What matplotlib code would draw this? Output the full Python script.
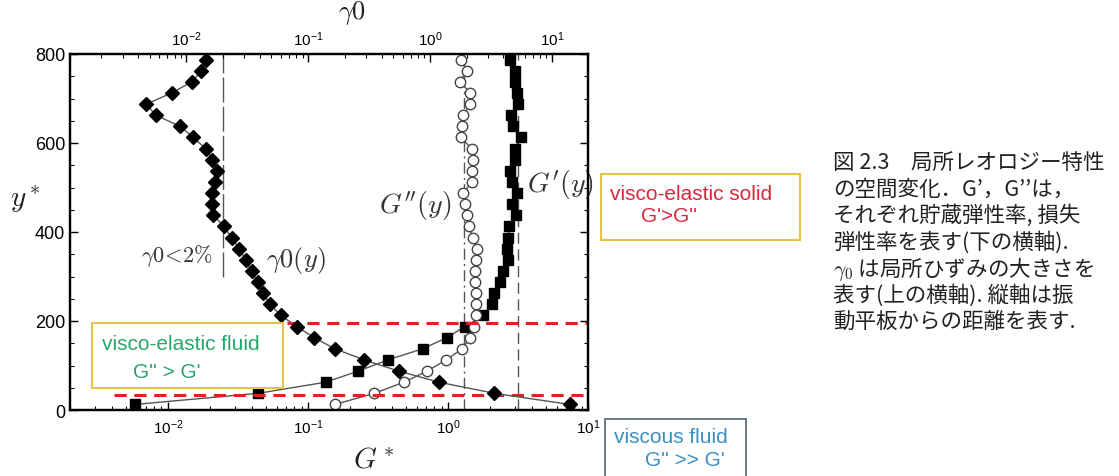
import matplotlib.pyplot as plt
from matplotlib.patches import Rectangle
from matplotlib.ticker import LogLocator, MultipleLocator

plt.rcParams['font.family'] = ['Liberation Sans', 'DejaVu Sans']
plt.rcParams['mathtext.fontset'] = 'cm'

# distance from the oscillating plate, same grid for every profile
y_star = [787.5, 762.5, 737.5, 712.5, 687.5, 662.5, 637.5, 612.5,
          587.5, 562.5, 537.5, 512.5, 487.5, 462.5, 437.5, 412.5,
          387.5, 362.5, 337.5, 312.5, 287.5, 262.5, 237.5, 212.5,
          187.5, 162.5, 137.5, 112.5, 87.5, 62.5, 37.5, 12.5]

# local strain amplitude (top axis)
gamma0 = [0.0144, 0.0133, 0.0111, 0.0076, 0.0047, 0.0056, 0.0089, 0.0114,
          0.0144, 0.0164, 0.0180, 0.0171, 0.0164, 0.0164, 0.0167, 0.0204,
          0.0235, 0.0271, 0.0308, 0.0343, 0.0384, 0.0427, 0.0484, 0.0597,
          0.0807, 0.112, 0.166, 0.288, 0.553, 1.18, 3.38, 14.0]

# storage modulus G' (bottom axis)
g_storage = [2.77, 3.01, 3.01, 3.09, 3.18, 2.81, 2.90, 3.32,
             3.01, 3.01, 2.77, 2.85, 3.09, 2.88, 3.05, 2.74,
             2.70, 2.62, 2.67, 2.48, 2.35, 2.13, 2.05, 1.79,
             1.32, 0.98, 0.66, 0.371, 0.229, 0.134, 0.0442, 0.0058]

# loss modulus G'' (bottom axis)
g_loss = [1.23, 1.36, 1.22, 1.44, 1.44, 1.29, 1.27, 1.23,
          1.48, 1.52, 1.48, 1.48, 1.29, 1.32, 1.36, 1.42,
          1.50, 1.60, 1.58, 1.56, 1.56, 1.58, 1.58, 1.58,
          1.53, 1.44, 1.26, 0.97, 0.71, 0.485, 0.298, 0.156]

gamma_limit = 0.02        # gamma0 < 2 %
g_loss_plateau = 1.3
g_storage_plateau = 3.16
y_upper = 195
y_lower = 34

caption = ["図 2.3　局所レオロジー特性",
           "の空間変化．G’，G’’は，",
           "それぞれ貯蔵弾性率, 損失",
           "弾性率を表す(下の横軸).",
           r"$\gamma_0$ は局所ひずみの大きさを",
           "表す(上の横軸). 縦軸は振",
           "動平板からの距離を表す."]

W, H = 1119, 477
fig = plt.figure(figsize=(W / 100, H / 100), dpi=100)
ax = fig.add_axes([70 / W, 1 - 411 / H, 518 / W, 356 / H])
ax2 = ax.twiny()

line_col = '#555555'
ax.plot(g_storage, y_star, color=line_col, lw=1, marker='s', ms=6.8,
        mfc='black', mec='black', zorder=3)
ax.plot(g_loss, y_star, color=line_col, lw=1, marker='o', ms=7.5,
        mfc='white', mec='#444444', mew=1, zorder=3)
ax2.plot(gamma0, y_star, color=line_col, lw=1, marker='D', ms=7,
         mfc='black', mec='black', zorder=3)

ax.axvline(g_loss_plateau, color='#555555', lw=1, ls=(0, (8, 3, 1.5, 3)), zorder=1)
ax.axvline(g_storage_plateau, color='#555555', lw=1, ls=(0, (8, 4)), zorder=1)
ax2.plot([gamma_limit, gamma_limit], [300, 800], color='#555555', lw=1,
         ls=(0, (18, 3)), zorder=1)

ax.hlines(y_upper, 0.071, 10, colors='#dd2222', lw=2.2, linestyles=(0, (4, 2.5)), zorder=4)
ax.hlines(y_lower, 0.0041, 10, colors='#dd2222', lw=2.2, linestyles=(0, (4, 2.5)), zorder=4)

ax.set_xscale('log')
ax2.set_xscale('log')
ax.set_xlim(0.002, 10)
ax2.set_xlim(0.00111, 19.8)
ax.set_ylim(0, 800)
ax.yaxis.set_major_locator(MultipleLocator(200))
ax.yaxis.set_minor_locator(MultipleLocator(50))
ax.xaxis.set_major_locator(LogLocator(base=10, numticks=10))
ax2.xaxis.set_major_locator(LogLocator(base=10, numticks=10))

ax.tick_params(axis='both', which='both', direction='in', right=True, top=False)
ax.tick_params(which='major', length=6, width=1)
ax.tick_params(which='minor', length=3, width=0.8)
ax.tick_params(axis='y', labelsize=13)
ax.tick_params(axis='x', labelsize=11, pad=5)
ax2.tick_params(which='both', direction='in')
ax2.tick_params(which='major', length=6, width=1, labelsize=11, pad=4)
ax2.tick_params(which='minor', length=3, width=0.8)
for a in (ax, ax2):
    for s in a.spines.values():
        s.set_linewidth(1.6)

ax.set_ylabel(r'$y^*$', fontsize=21, rotation=0, color='#222222')
ax.yaxis.set_label_coords(-0.087, 0.55)
ax.set_xlabel(r'$G^*$', fontsize=21, color='#222222')
ax.xaxis.set_label_coords(0.585, -0.10)
ax2.set_xlabel(r'$\gamma\mathrm{0}$', fontsize=19, color='#222222')
ax2.xaxis.set_label_coords(0.544, 1.10)

txt = '#333333'
ax.text(0.207, 0.435, r'$\gamma\mathrm{0}\!<\!2\%$', transform=ax.transAxes,
        fontsize=16, color=txt, ha='center', va='center')
ax.text(0.436, 0.424, r'$\gamma\mathrm{0}(y)$', transform=ax.transAxes,
        fontsize=19, color=txt, ha='center', va='center')
ax.text(0.666, 0.576, r"$G''(y)$", transform=ax.transAxes,
        fontsize=20, color=txt, ha='center', va='center')
ax.text(0.946, 0.635, r"$G'(y)$", transform=ax.transAxes,
        fontsize=20, color=txt, ha='center', va='center', zorder=6)


def fx(px):
    return px / W


def fy(py):
    return 1 - py / H


def region_box(x0, y0, x1, y1, edge, lw, lines, color):
    fig.add_artist(Rectangle((fx(x0), fy(y1)), fx(x1) - fx(x0), fy(y0) - fy(y1),
                             transform=fig.transFigure, facecolor='white',
                             edgecolor=edge, lw=lw, zorder=5))
    for (tx, ty, s) in lines:
        fig.text(fx(tx), fy(ty), s, fontsize=15, color=color,
                 ha='left', va='center', zorder=6)


region_box(92, 324, 283, 389, '#e6c24a', 1.5,
           [(102, 345, 'visco-elastic fluid'), (133, 372, "G'' > G'")], '#27a56c')
region_box(601, 175, 800, 241, '#e6c24a', 1.5,
           [(610, 195, 'visco-elastic solid'), (641, 217, "G'>G''")], '#d9283c')
region_box(605, 420, 746, 490, '#56626e', 1.2,
           [(614, 438, 'viscous fluid'), (645, 461, "G'' >> G'")], '#3a8fc4')

for i, line in enumerate(caption):
    fig.text(fx(833), fy(163 + 26.5 * i), line, fontsize=15.5, color='#222222',
             ha='left', va='center', family=['Noto Sans CJK JP', 'DejaVu Sans'])

fig.savefig('out.png', dpi=100)
